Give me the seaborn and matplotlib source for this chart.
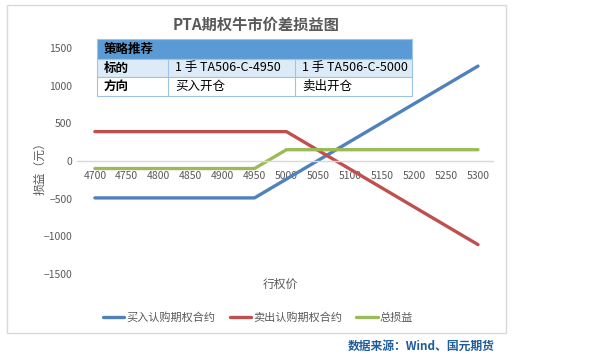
import pandas as pd
import matplotlib
matplotlib.use('Agg')
import matplotlib.pyplot as plt
from matplotlib.patches import Rectangle
import seaborn as sns

# ---- data ----
strikes = [4700, 4750, 4800, 4850, 4900, 4950, 5000, 5050, 5100, 5150, 5200, 5250, 5300]
buy_call = [-490, -490, -490, -490, -490, -490, -240, 10, 260, 510, 760, 1010, 1260]
sell_call = [390, 390, 390, 390, 390, 390, 390, 140, -110, -360, -610, -860, -1110]
total_pnl = [-100, -100, -100, -100, -100, -100, 150, 150, 150, 150, 150, 150, 150]
series_names = ['买入认购期权合约', '卖出认购期权合约', '总损益']
series_colors = ['#4F81BD', '#C0504D', '#9BBB59']
y_ticks = [-1500, -1000, -500, 0, 500, 1000, 1500]

table_rows = [
    ['策略推荐', '', ''],
    ['标的', '1 手 TA506-C-4950', '1 手 TA506-C-5000'],
    ['方向', '买入开仓', '卖出开仓'],
]

df = pd.DataFrame({'行权价': strikes * 3,
                   '损益': buy_call + sell_call + total_pnl,
                   '合约': [n for n in series_names for _ in strikes]})

sns.set_theme(style='white')
plt.rcParams['font.family'] = ['Noto Sans CJK SC', 'DejaVu Sans']

W, H = 604, 355
fig = plt.figure(figsize=(W / 100, H / 100), dpi=100)
fig.patch.set_facecolor('white')


def fx(px):
    return px / W


def fy(py):
    return 1 - py / H


ax = fig.add_axes([fx(77), fy(274), fx(493) - fx(77), fy(48) - fy(274)])
sns.lineplot(data=df, x='行权价', y='损益', hue='合约', palette=series_colors,
             linewidth=2.4, ax=ax, legend=True)

ax.set_xlim(4700 - 0.56 * 50, 5300 + 0.47 * 50)
ax.set_ylim(-1500, 1500)
ax.set_yticks(y_ticks)
ax.set_xticks(strikes)
ax.tick_params(axis='both', length=0, labelsize=7.5, colors='#595959')
ax.tick_params(axis='x', pad=7)
for s in ['top', 'right', 'left']:
    ax.spines[s].set_visible(False)
ax.spines['bottom'].set_position(('data', 0))
ax.spines['bottom'].set_color('#D9D9D9')
ax.spines['bottom'].set_linewidth(1)
ax.set_xlabel('')
ax.set_ylabel('')
ax.grid(False)

# legend
leg = ax.get_legend()
handles, labels = ax.get_legend_handles_labels()
leg.remove()
fig.legend(handles, labels, loc='center', bbox_to_anchor=(fx(258), fy(317)),
           ncol=3, frameon=False, fontsize=8, handlelength=1.9,
           handletextpad=0.2, columnspacing=1.3, labelcolor='#595959')

# axis titles and title
fig.text(fx(40), fy(166), '损益（元）', rotation=90, ha='center', va='center',
         fontsize=8.5, color='#595959')
fig.text(fx(280), fy(284), '行权价', ha='center', va='center', fontsize=8.5, color='#595959')
fig.text(fx(256), fy(25), 'PTA期权牛市价差损益图', ha='center', va='center',
         fontsize=11, fontweight='bold', color='#595959')

# outer frame
fig.add_artist(Rectangle((fx(7), fy(333)), fx(506) - fx(7), fy(5) - fy(333),
                         transform=fig.transFigure, fill=False, edgecolor='#D9D9D9', lw=1))

# strategy table
row_y = [39, 59, 77, 96]
col_x = [97, 168, 295, 412]
row_fill = ['#5B9BD5', '#DDEBF7', '#FFFFFF']
for i, row in enumerate(table_rows):
    y0, y1 = row_y[i], row_y[i + 1]
    fig.add_artist(Rectangle((fx(col_x[0]), fy(y1)), fx(col_x[-1]) - fx(col_x[0]), fy(y0) - fy(y1),
                             transform=fig.transFigure, facecolor=row_fill[i],
                             edgecolor='#9DC3E6', lw=0.8))
    for j, cell in enumerate(row):
        if i > 0 and j > 0:
            fig.add_artist(plt.Line2D([fx(col_x[j]), fx(col_x[j])], [fy(y0), fy(y1)],
                                      transform=fig.transFigure, color='#9DC3E6', lw=0.8))
        if cell:
            fig.text(fx(col_x[j] + 7), fy((y0 + y1) / 2), cell, ha='left', va='center',
                     fontsize=9, color='black',
                     fontweight='bold' if j == 0 else 'normal')

# source note
fig.text(fx(495), fy(346), '数据来源：Wind、国元期货', ha='right', va='center',
         fontsize=8.5, fontweight='bold', color='#1F5C99')

fig.savefig('out.png', dpi=100)
